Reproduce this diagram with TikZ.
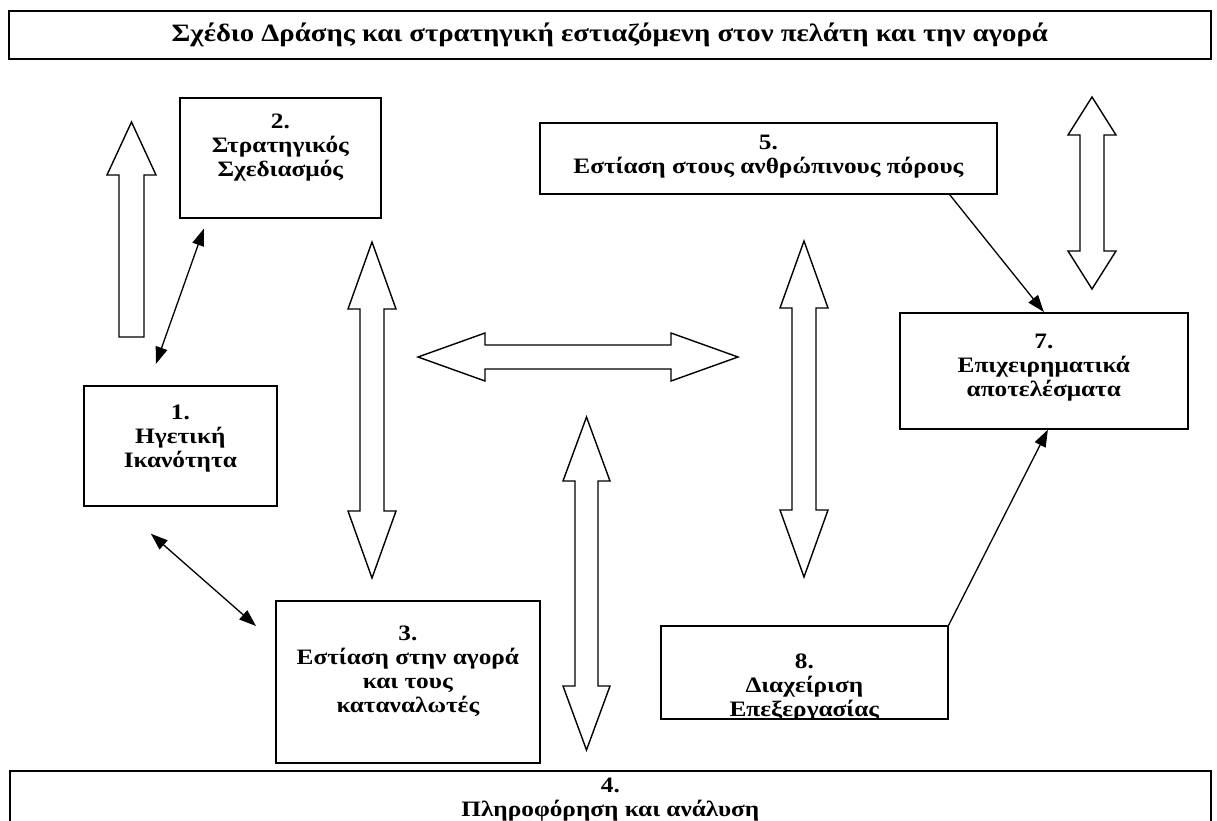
\documentclass[tikz,border=0pt]{standalone}
\usepackage{fontspec}
\setmainfont{Liberation Serif}[FakeStretch=1.15]
\usetikzlibrary{arrows.meta,positioning}

\begin{document}
\begin{tikzpicture}[x=1pt,y=-1pt,
  box/.style={draw,line width=1.7pt,inner sep=0pt,anchor=north west},
  txt/.style={align=center,inner sep=0pt,font=\fontsize{22}{24}\selectfont\bfseries},
  blk/.style={draw,line width=1.4pt,fill=white,line join=miter},
  arr/.style={-{Triangle[length=17pt,width=12pt]},line width=1.3pt},
  darr/.style={{Triangle[length=17pt,width=12pt]}-{Triangle[length=17pt,width=12pt]},line width=1.3pt}
]
\useasboundingbox (0,0) rectangle (1217,820);
\fill[white] (0,0) rectangle (1217,820);
\clip (0,0) rectangle (1217,820);

% boxes
\node[box,txt,font=\fontsize{25}{25}\selectfont\bfseries,minimum width=1202pt,minimum height=48pt] (title) at (8,10)
  {Σχέδιο Δράσης και στρατηγική εστιαζόμενη στον πελάτη και την αγορά};
\node[box,minimum width=201pt,minimum height=120pt] (strat)  at (179,97)  {};
\node[box,minimum width=193pt,minimum height=120pt] (lead)   at (83,385)  {};
\node[box,minimum width=264pt,minimum height=162pt] (mkt)    at (275,600) {};
\node[box,minimum width=1201pt,minimum height=100pt] (info)  at (9,770)   {};
\node[box,minimum width=457pt,minimum height=71pt]  (hr)     at (539,122) {};
\node[box,minimum width=288pt,minimum height=116pt] (result) at (899,312) {};
\node[box,minimum width=287pt,minimum height=93pt]  (proc)   at (660,625) {};

% texts
\node[txt,below=17pt of strat.north]  (strattxt)  {2.\\Στρατηγικός\\Σχεδιασμός};
\node[txt,below=20pt of lead.north]   (leadtxt)   {1.\\Ηγετική\\Ικανότητα};
\node[txt,below=26pt of mkt.north]    (mkttxt)    {3.\\Εστίαση στην αγορά\\και τους\\καταναλωτές};
\node[txt,below=8pt of info.north]    (infotxt)   {4.\\Πληροφόρηση και ανάλυση};
\node[txt,below=13pt of hr.north]     (hrtxt)     {5.\\Εστίαση στους ανθρώπινους πόρους};
\node[txt,below=22pt of result.north] (resulttxt) {7.\\Επιχειρηματικά\\αποτελέσματα};
\begin{scope}
  \clip (proc.north west) rectangle (proc.south east);
  \node[txt,below=29pt of proc.north] (proctxt) {8.\\Διαχείριση\\Επεξεργασίας};
\end{scope}

% block arrows
\draw[blk] (131.5,122) -- ++(24.5,53) -- ++(-12,0) -- ++(0,162) -- ++(-25,0)
  -- ++(0,-162) -- ++(-12,0) -- cycle;
\draw[blk] (372,242) -- ++(24,67) -- ++(-12,0) -- ++(0,202) -- ++(12,0) -- ++(-24,67)
  -- ++(-24,-67) -- ++(12,0) -- ++(0,-202) -- ++(-12,0) -- cycle;
\draw[blk] (586.5,417) -- ++(23.5,64) -- ++(-12,0) -- ++(0,205) -- ++(12,0) -- ++(-23.5,64)
  -- ++(-23.5,-64) -- ++(12,0) -- ++(0,-205) -- ++(-12,0) -- cycle;
\draw[blk] (804,241) -- ++(24,67) -- ++(-12,0) -- ++(0,202) -- ++(12,0) -- ++(-24,67)
  -- ++(-24,-67) -- ++(12,0) -- ++(0,-202) -- ++(-12,0) -- cycle;
\draw[blk] (1092,97) -- ++(24,38) -- ++(-12,0) -- ++(0,116) -- ++(12,0) -- ++(-24,38)
  -- ++(-24,-38) -- ++(12,0) -- ++(0,-116) -- ++(-12,0) -- cycle;
\draw[blk] (418,357) -- ++(67,-24) -- ++(0,12) -- ++(186,0) -- ++(0,-12) -- ++(67,24)
  -- ++(-67,24) -- ++(0,-12) -- ++(-186,0) -- ++(0,12) -- cycle;

% connectors
\draw[darr] ([xshift=-24.5pt,yshift=21pt]lead.north) -- ([xshift=-76.5pt,yshift=-10pt]strat.south);
\draw[darr] ([xshift=-29.5pt,yshift=-27pt]lead.south) -- ([xshift=-19pt,yshift=-26pt]mkt.north west);
\draw[arr] ([xshift=-48pt]hr.south east) -- (result.north);
\draw[arr] (proc.north east) -- ([xshift=4pt]result.south);
\end{tikzpicture}
\end{document}
